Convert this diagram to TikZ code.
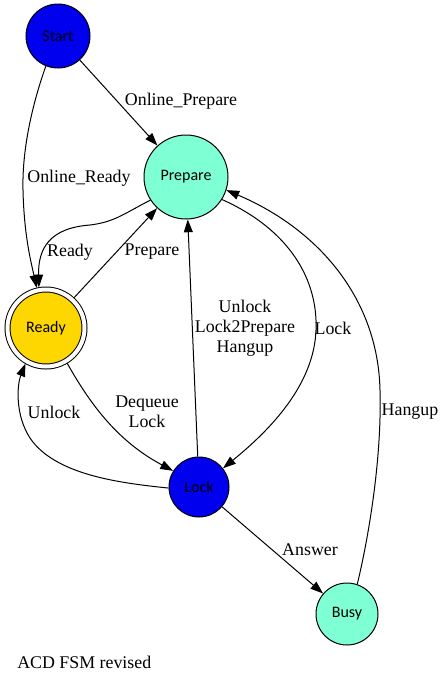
\documentclass[tikz,border=0pt]{standalone}
\usepackage{fontspec}
\setmainfont{Liberation Serif}
\newfontfamily\nodefont{Carlito}
\usetikzlibrary{arrows.meta}
\definecolor{blueii}{HTML}{0000EE}
\definecolor{aquam}{HTML}{7FFFD4}
\definecolor{goldc}{HTML}{FFD700}
\tikzset{
 state/.style={circle, draw, line width=0.75pt, inner sep=0pt, font=\nodefont\fontsize{12}{14}\selectfont},
 lbl/.style={font=\fontsize{13.4}{15}\selectfont, align=center, inner sep=0pt},
 arr/.style={line width=0.75pt, -{Triangle[length=9.6pt,width=6.7pt]}},
}
\begin{document}
\begin{tikzpicture}[x=0.75pt,y=-0.75pt]
\useasboundingbox (0,0) rectangle (446,682);
\node[state, fill=blueii, minimum size=48pt] (start) at (58,36) {Start};
\node[state, fill=aquam, minimum size=63pt] (prepare) at (186,177) {Prepare};
\node[state, fill=goldc, minimum size=57.75pt, double, double distance=3pt, outer sep=2pt] (ready) at (46,328) {Ready};
\node[state, fill=blueii, minimum size=45pt] (lock) at (199,487) {Lock};
\node[state, fill=aquam, minimum size=46.5pt] (busy) at (347,614) {Busy};

\node[lbl] (l1) at (181,101) {Online\_Prepare};
\node[lbl] (l2) at (79,178) {Online\_Ready};
\node[lbl] (l3) at (70,252) {Ready};
\node[lbl] (l4) at (152,252) {Prepare};
\node[lbl] (l5) at (147,412) {Dequeue\\Lock};
\node[lbl] (l6) at (54,412) {Unlock};
\node[lbl] (l7) at (245,328) {Unlock\\Lock2Prepare\\Hangup};
\node[lbl] (l8) at (333,328) {Lock};
\node[lbl] (l9) at (410,412) {Hangup};
\node[lbl] (l10) at (310,550) {Answer};
\node[lbl, anchor=west] (title) at (17,662) {ACD FSM revised};

\draw[arr] (start) -- (prepare);
\draw[arr] (start.248) .. controls (32,105) and (22,150) .. (23,190) .. controls (24,235) and (31,262) .. (ready.103);
\draw[arr] (prepare.213) .. controls (125,213) and (115,222) .. (90,225) .. controls (50,228) and (38,248) .. (ready.100);
\draw[arr] (ready) -- (prepare);
\draw[arr] (ready.301) .. controls (88,400) and (115,440) .. (lock.148);
\draw[arr] (lock.182) .. controls (120,483) and (55,475) .. (30,438) .. controls (15,415) and (17,385) .. (ready.240);
\draw[arr] (lock) -- (prepare);
\draw[arr] (prepare.328) .. controls (290,230) and (318,280) .. (316,330) .. controls (314,385) and (270,430) .. (lock.38);
\draw[arr] (busy.71) .. controls (368,540) and (382,460) .. (380,390) .. controls (378,300) and (320,230) .. (prepare.342);
\draw[arr] (lock) -- (busy);
\end{tikzpicture}
\end{document}
